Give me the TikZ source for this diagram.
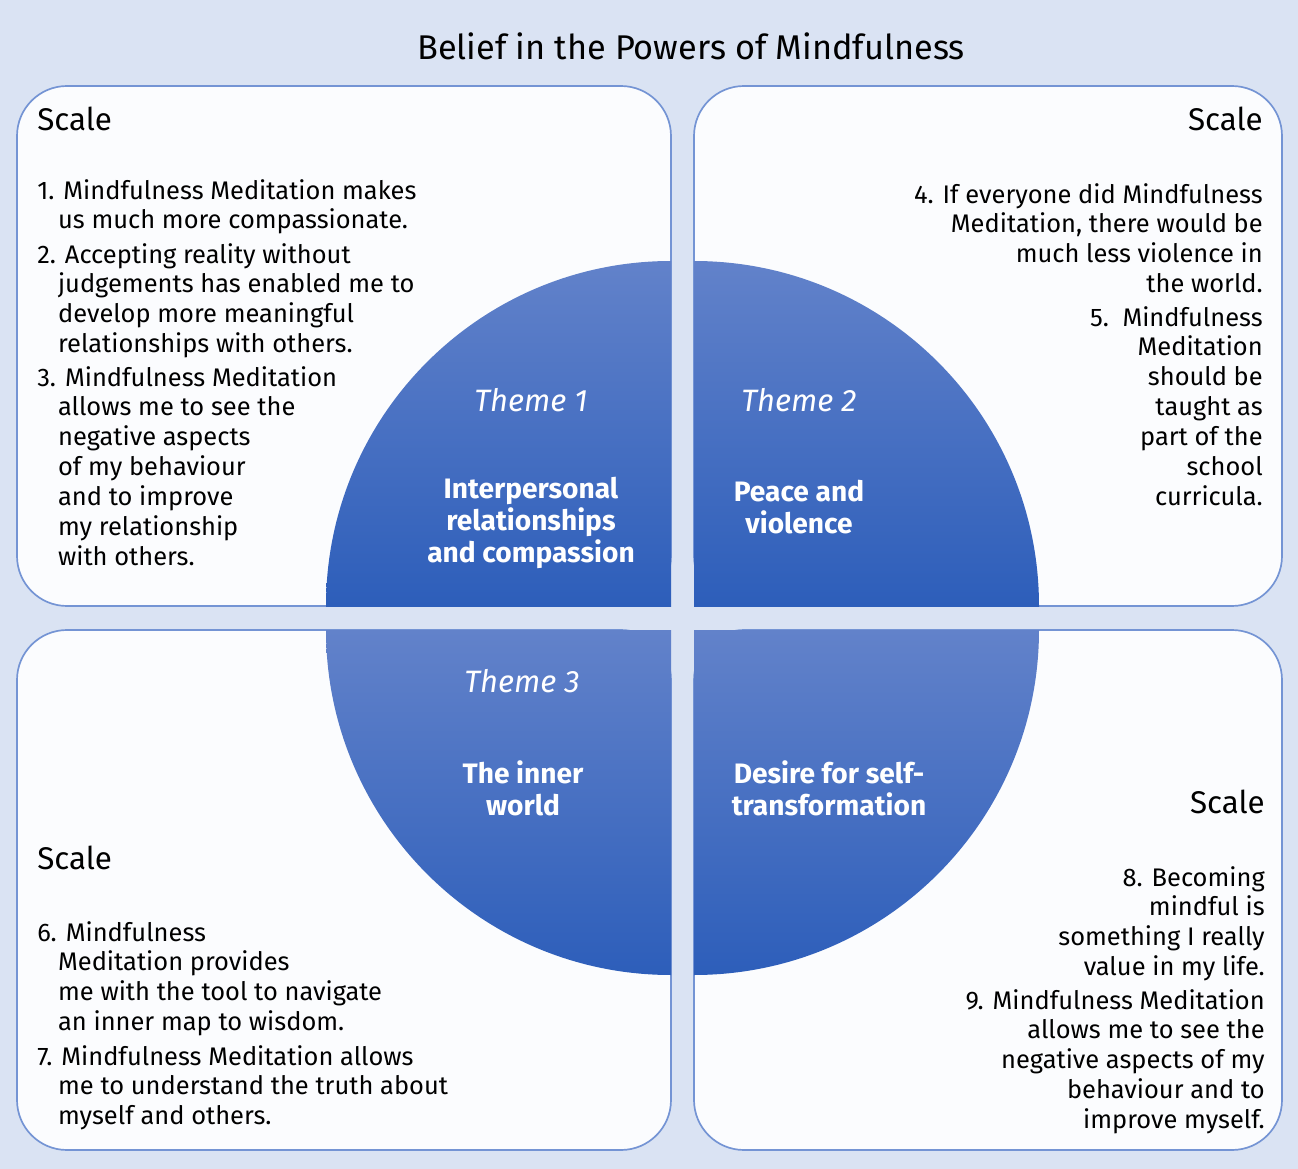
\documentclass[tikz,border=0pt]{standalone}
\usepackage{fontspec}
\setmainfont{Fira Sans}
\usetikzlibrary{positioning}

\definecolor{pagebg}{RGB}{218,227,243}
\definecolor{boxline}{RGB}{116,148,212}
\definecolor{boxfill}{RGB}{251,252,254}
\definecolor{quadtop}{RGB}{98,130,202}
\definecolor{quadbot}{RGB}{45,94,186}
\newcommand{\ind}{\hspace*{0.52cm}}

\begin{document}
\begin{tikzpicture}[
    x=0.025cm, y=0.025cm,
    scalebox/.style={
        draw=boxline, line width=1.2pt,
        fill=boxfill, rounded corners=1.25cm
    },
    quad/.style={top color=quadtop, bottom color=quadbot},
    heading/.style={font=\fontsize{22.3}{25}\selectfont, inner sep=0pt},
    item/.style={font=\fontsize{18.1}{21.2}\selectfont, inner sep=0pt},
    itemL/.style={item, align=left, anchor=north west},
    itemR/.style={item, align=right, anchor=north east},
    theme/.style={font=\fontsize{22}{24}\selectfont\itshape, text=white, inner sep=0pt},
    topic/.style={font=\fontsize{20}{22.7}\selectfont\bfseries, text=white,
        align=center, inner sep=0pt},
]

% Sfondo
\useasboundingbox (0,0) rectangle (1298,-1169);
\fill[pagebg] (0,0) rectangle (1298,-1169);

% Titolo
\node[font=\fontsize{24.4}{28}\selectfont, inner sep=0pt] (title) at (691,-46)
    {Belief in the Powers of Mindfulness};

% Riquadri
\draw[scalebox] (17,-86)  rectangle (671,-606);
\draw[scalebox] (694,-86) rectangle (1282,-606);
\draw[scalebox] (17,-630) rectangle (671,-1150);
\draw[scalebox] (694,-630) rectangle (1282,-1150);

% Quarti di cerchio
\begin{scope}
    \clip (671,-606) circle[radius=345];
    \shade[quad] (326,-261) rectangle (671,-606);
\end{scope}
\begin{scope}
    \clip (694,-606) circle[radius=345];
    \shade[quad] (694,-261) rectangle (1039,-606);
\end{scope}
\begin{scope}
    \clip (671,-630) circle[radius=345];
    \shade[quad] (326,-630) rectangle (671,-975);
\end{scope}
\begin{scope}
    \clip (694,-630) circle[radius=345];
    \shade[quad] (694,-630) rectangle (1039,-975);
\end{scope}

%% TEMI
\node[theme] (themeA) at (531,-400) {Theme 1};
\node[topic] (topicA) at (531,-523)
    {Interpersonal\\relationships\\and compassion};
\node[theme] (themeB) at (799,-400) {Theme 2};
\node[topic] (topicB) at (799,-507) {Peace and\\violence};
\node[theme] (themeC) at (522,-681) {Theme 3};
\node[topic] (topicC) at (523,-788) {The inner\\world};
\node[topic] (topicD) at (829,-788) {Desire for self-\\transformation};

%% SCALA 1
\node[heading, anchor=west] (scaleA) at (37,-119) {Scale};
\node[itemL] (itemA1) at (37,-179)
    {1. Mindfulness Meditation makes\\\ind us much more compassionate.};
\node[itemL] (itemA2) at (37,-243)
    {2. Accepting reality without\\\ind judgements has enabled me to\\\ind develop more meaningful\\\ind relationships with others.};
\node[itemL] (itemA3) at (37,-366)
    {3. Mindfulness Meditation\\\ind allows me to see the\\\ind negative aspects\\\ind of my behaviour\\\ind and to improve\\\ind my relationship\\\ind with others.};

%% SCALA 2
\node[heading, anchor=east] (scaleB) at (1263,-119) {Scale};
\node[itemR] (itemB4) at (1263,-183)
    {4. If everyone did Mindfulness\\Meditation, there would be\\much less violence in\\the world.};
\node[itemR] (itemB5) at (1263,-306)
    {5.\ \ Mindfulness\\Meditation\\should be\\taught as\\part of the\\school\\curricula.};

%% SCALA 3
\node[heading, anchor=west] (scaleC) at (37,-858) {Scale};
\node[itemL] (itemC6) at (37,-921)
    {6. Mindfulness\\\ind Meditation provides\\\ind me with the tool to navigate\\\ind an inner map to wisdom.};
\node[itemL] (itemC7) at (37,-1045)
    {7. Mindfulness Meditation allows\\\ind me to understand the truth about\\\ind myself and others.};

%% SCALA 4
\node[heading, anchor=east] (scaleD) at (1265,-802) {Scale};
\node[itemR] (itemD8) at (1265,-866)
    {8. Becoming\\mindful is\\something I really\\value in my life.};
\node[itemR] (itemD9) at (1265,-989)
    {9. Mindfulness Meditation\\allows me to see the\\negative aspects of my\\behaviour and to\\improve myself.};
\end{tikzpicture}
\end{document}
